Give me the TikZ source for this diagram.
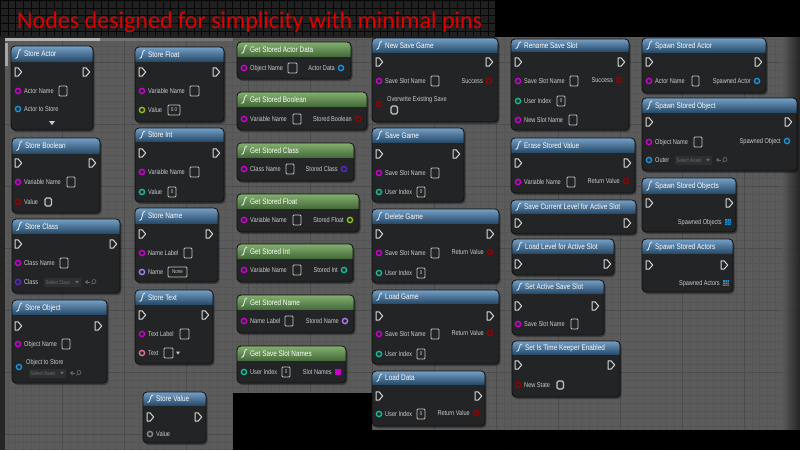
\documentclass[tikz,border=0pt]{standalone}
\usepackage{fontspec}
\setmainfont{Liberation Sans}
\newfontfamily\headfont{Carlito}
\newfontfamily\pinfont[FakeStretch=0.8]{Liberation Sans}
\definecolor{bgc}{HTML}{5B5B5B}
\definecolor{gminc}{HTML}{555555}
\definecolor{gmajc}{HTML}{4B4B4B}
\definecolor{bandc}{HTML}{202020}
\definecolor{bodyc}{HTML}{222426}
\definecolor{edgec}{HTML}{0E0E0E}
\definecolor{lblc}{HTML}{CCCCCC}
\definecolor{execc}{HTML}{D8D8D8}
\definecolor{boxc}{HTML}{C4C4C4}
\definecolor{cbfill}{HTML}{2A2A2A}
\definecolor{dimc}{HTML}{6E6E6E}
\definecolor{ddc}{HTML}{2E2F31}
\definecolor{titlered}{HTML}{E00000}
\definecolor{pmag}{HTML}{D000D0}
\definecolor{pblue}{HTML}{1C94D8}
\definecolor{pred}{HTML}{960000}
\definecolor{pgreen}{HTML}{8CC21E}
\definecolor{pteal}{HTML}{18BC98}
\definecolor{ppurp}{HTML}{5C26C8}
\definecolor{plav}{HTML}{AC7CF0}
\definecolor{ppink}{HTML}{DA74A0}
\definecolor{pgray}{HTML}{8A8A8A}
\definecolor{ficon}{HTML}{DCEAF8}
\tikzset{
  bpbody/.style={fill=bodyc, rounded corners=4pt},
  bpedge/.style={draw=edgec, line width=0.8pt, rounded corners=4pt},
  hblue/.style={top color={rgb,255:red,118;green,160;blue,198}, bottom color={rgb,255:red,40;green,76;blue,108}},
  hgreen/.style={top color={rgb,255:red,132;green,176;blue,110}, bottom color={rgb,255:red,70;green,108;blue,60}},
  ttl/.style={font=\pinfont\fontsize{8}{9}\selectfont, text=white, inner sep=0pt, anchor=base west},
  plbl/.style={font=\pinfont\fontsize{7}{8}\selectfont, text=lblc, inner sep=0pt},
  boxtxt/.style={font=\pinfont\fontsize{5.5}{6}\selectfont, text=lblc, inner sep=0pt},
  ddtxt/.style={font=\pinfont\fontsize{5.5}{6}\selectfont, text=dimc, inner sep=0pt, anchor=base west},
  execpin/.style={draw=execc, line width=1pt, line join=round},
  vbox/.style={draw=boxc, line width=0.75pt, rounded corners=1pt},
}
\newcounter{tn}
\newcommand\bpNode[8]{%
  \fill[black, opacity=0.35, rounded corners=4pt] (#2+1.5,#3+2) rectangle (#4+1.5,#5+2);
  \path[bpbody] (#2,#3) rectangle (#4,#5);
  \begin{scope}
    \clip[rounded corners=4pt] (#2,#3) rectangle (#4,#5);
    \shade[#8] (#2,#3) rectangle (#4,#6);
  \end{scope}
  \draw[bpedge] (#2,#3) rectangle (#4,#5);
  \draw[ficon, line width=0.9pt] (#2+4.5,#6-2.5) .. controls (#2+8,#6-2) and (#2+6.5,#3+2.5) .. (#2+10,#3+3);
  \node[ttl] (#1) at ({#2+13},{(#3+#6)/2+3}) {#7};
}
\newcommand\bpX[2]{\draw[execpin] (#1-3,#2-4.2) -- (#1,#2-4.2) -- (#1+3.7,#2) -- (#1,#2+4.2) -- (#1-3,#2+4.2) -- cycle;}
\newcommand\bpD[3]{\draw[line width=1.4pt, draw=#3, fill=bodyc] (#1,#2) circle (2.6pt);}
\newcommand\bpL[3]{\stepcounter{tn}\node[plbl, anchor=base west] (t\arabic{tn}) at (#1+6,#2+2.5) {#3};}
\newcommand\bpR[3]{\stepcounter{tn}\node[plbl, anchor=base east] (t\arabic{tn}) at (#1-6,#2+2.5) {#3};}
\newcommand\bpV[3]{\draw[vbox] (#1,#2-5) rectangle (#3,#2+5);}
\newcommand\bpVT[4]{\draw[vbox] (#1,#2-5) rectangle (#3,#2+5);\stepcounter{tn}\node[boxtxt] (t\arabic{tn}) at ({(#1+#3)/2},#2) {#4};}
\newcommand\bpC[2]{\draw[vbox, line width=1.2pt, fill=cbfill, rounded corners=1.5pt] (#1,#2-4) rectangle (#1+6.5,#2+4);}
\newcommand\bpA[3]{\fill[#3] (#1-3,#2-3) rectangle (#1+3,#2+3);
  \draw[black!70, line width=0.35pt] (#1-3,#2-1) -- (#1+3,#2-1) (#1-3,#2+1) -- (#1+3,#2+1) (#1-1,#2-3) -- (#1-1,#2+3) (#1+1,#2-3) -- (#1+1,#2+3);}
\newcommand\bpDD[4]{\fill[ddc] (#1,#2-4.5) rectangle (#3,#2+4.5);
  \stepcounter{tn}\node[ddtxt] (t\arabic{tn}) at (#1+1.5,#2+2) {#4};
  \fill[dimc] (#3-6,#2-1.2) -- (#3-2,#2-1.2) -- (#3-4,#2+1.3) -- cycle;}
\newcommand\bpIc[2]{\fill[dimc] (#1,#2) -- (#1+2.5,#2-2) -- (#1+2.5,#2+2) -- cycle;
  \draw[dimc, line width=0.6pt] (#1+2.5,#2) -- (#1+4.5,#2);
  \draw[dimc, line width=0.6pt] (#1+9,#2-0.5) circle (2pt) (#1+7.6,#2+1) -- (#1+6.5,#2+2.5);}
\begin{document}
\begin{tikzpicture}[x=1pt,y=-1pt]
\useasboundingbox (0,0) rectangle (800,450);
% backgrounds
\fill[black] (0,0) rectangle (800,450);
\fill[bgc] (0,37) rectangle (800,450);
\draw[gminc, line width=0.4pt, step=7.75pt] (0,37) grid (800,450);
\draw[gmajc, line width=0.6pt, step=62pt] (0,37) grid (800,450);
\shade[left color=bgc, right color=black!75!bgc, opacity=0.8] (782,37) rectangle (800,430);
\fill[bandc] (0,0) rectangle (495,38);
\draw[black!80!bandc, line width=0.4pt, step=7.75pt] (0,0) grid (495,36);
\fill[black] (495,0) rectangle (800,36);
\fill[black] (233,393) rectangle (372,450);
\fill[black] (372,430) rectangle (800,450);
\fill[black!85] (0,38) rectangle (5,450);
\fill[black!35] (5,43) rectangle (8,66);
\fill[black!55] (5,38) rectangle (233,40.5);
\fill[black!30] (5,38) rectangle (100,40.5);
% headline
\node[anchor=base west, font=\headfont\fontsize{24}{28}\selectfont, text=titlered, inner sep=0pt] (headline) at (17,28) {Nodes designed for simplicity with minimal pins};

% ===== column 1 =====
\bpNode{sa}{11}{46}{93}{130}{61}{Store Actor}{hblue}
\bpX{18}{72}\bpX{86}{72}
\bpD{18}{91}{pmag}\bpL{18}{91}{Actor Name}\bpV{59}{91}{67}
\bpD{18}{109}{pblue}\bpL{18}{109}{Actor to Store}
\fill[lblc] (49,121) -- (55,121) -- (52,125) -- cycle;

\bpNode{sb}{12}{138}{100}{213}{153}{Store Boolean}{hblue}
\bpX{18}{163}\bpX{92}{163}
\bpD{18}{182}{pmag}\bpL{18}{182}{Variable Name}\bpV{67}{182}{75}
\bpD{18}{202}{pred}\bpL{18}{202}{Value}\bpC{45}{202}

\bpNode{sc}{12}{219}{120}{293}{233}{Store Class}{hblue}
\bpX{18}{244}\bpX{113}{244}
\bpD{18}{263}{pmag}\bpL{18}{263}{Class Name}\bpV{60}{263}{68}
\bpD{18}{282}{ppurp}\bpL{18}{282}{Class}\bpDD{44}{282}{81}{Select Class}\bpIc{85}{282}

\bpNode{so}{12}{300}{107}{383}{314}{Store Object}{hblue}
\bpX{18}{326}\bpX{98}{326}
\bpD{18}{344}{pmag}\bpL{18}{344}{Object Name}\bpV{62}{344}{70}
\bpL{20}{362}{Object to Store}
\bpD{19}{367}{pblue}\bpDD{29}{373}{66}{Select Asset}\bpIc{70}{373}

% ===== column 2 =====
\bpNode{sf}{135}{47}{224}{122}{61}{Store Float}{hblue}
\bpX{142}{72}\bpX{216}{72}
\bpD{142}{91}{pmag}\bpL{142}{91}{Variable Name}\bpV{190}{91}{199}
\bpD{142}{110}{pgreen}\bpL{142}{110}{Value}\bpVT{168}{110}{180}{0.0}

\bpNode{si}{135}{128}{224}{202}{141}{Store Int}{hblue}
\bpX{142}{153}\bpX{216}{153}
\bpD{142}{172}{pmag}\bpL{142}{172}{Variable Name}\bpV{190}{172}{199}
\bpD{142}{192}{pteal}\bpL{142}{192}{Value}\bpVT{168}{192}{176}{0}

\bpNode{sn}{135}{208}{218}{282}{223}{Store Name}{hblue}
\bpX{142}{234}\bpX{209}{234}
\bpD{142}{253}{pmag}\bpL{142}{253}{Name Label}\bpV{184}{253}{192}
\bpD{142}{272}{plav}\bpL{142}{272}{Name}\bpVT{168}{272}{187}{None}

\bpNode{st}{135}{290}{213}{364}{304}{Store Text}{hblue}
\bpX{142}{315}\bpX{205}{315}
\bpD{142}{334}{pmag}\bpL{142}{334}{Text Label}\bpV{180}{334}{189}
\bpD{142}{353}{ppink}\bpL{142}{353}{Text}\bpV{164}{353}{173}
\fill[lblc] (176,351.5) -- (180,351.5) -- (178,354.5) -- cycle;

\bpNode{sv}{143}{392}{206}{443}{405}{Store Value}{hblue}
\bpX{150}{417}\bpX{198}{417}
\bpD{150}{434}{pgray}\bpL{150}{434}{Value}

% ===== column 3 (pure) =====
\bpNode{ga}{237}{42}{351}{79}{56}{Get Stored Actor Data}{hgreen}
\bpD{244}{68}{pmag}\bpL{244}{68}{Object Name}\bpV{288}{68}{297}\bpR{341}{68}{Actor Data}\bpD{341}{68}{pblue}

\bpNode{gb}{237}{92}{367}{130}{106}{Get Stored Boolean}{hgreen}
\bpD{244}{119}{pmag}\bpL{244}{119}{Variable Name}\bpV{293}{119}{301}\bpR{358}{119}{Stored Boolean}\bpD{358}{119}{pred}

\bpNode{gc}{237}{143}{354}{181}{157}{Get Stored Class}{hgreen}
\bpD{244}{169}{pmag}\bpL{244}{169}{Class Name}\bpV{286}{169}{294}\bpR{344}{169}{Stored Class}\bpD{344}{169}{ppurp}

\bpNode{gf}{237}{194}{359}{232}{208}{Get Stored Float}{hgreen}
\bpD{244}{220}{pmag}\bpL{244}{220}{Variable Name}\bpV{293}{220}{301}\bpR{350}{220}{Stored Float}\bpD{350}{220}{pgreen}

\bpNode{gi}{237}{244}{353}{282}{258}{Get Stored Int}{hgreen}
\bpD{244}{270}{pmag}\bpL{244}{270}{Variable Name}\bpV{293}{270}{301}\bpR{344}{270}{Stored Int}\bpD{344}{270}{pteal}

\bpNode{gn}{237}{295}{354}{333}{309}{Get Stored Name}{hgreen}
\bpD{244}{321}{pmag}\bpL{244}{321}{Name Label}\bpV{285}{321}{293}\bpR{345}{321}{Stored Name}\bpD{345}{321}{plav}

\bpNode{gs}{237}{346}{346}{383}{360}{Get Save Slot Names}{hgreen}
\bpD{244}{372}{pteal}\bpL{244}{372}{User Index}\bpVT{282}{372}{290}{0}\bpR{338}{372}{Slot Names}\bpA{338}{372}{pmag}

% ===== column 4 =====
\bpNode{ng}{372}{38}{498}{122}{52}{New Save Game}{hblue}
\bpX{379}{62}\bpX{489}{62}
\bpD{379}{81}{pmag}\bpL{379}{81}{Save Slot Name}\bpV{431}{81}{439}\bpR{489}{81}{Success}\bpD{489}{81}{pred}
\bpL{381}{99}{Overwrite Existing Save}\bpD{379}{104}{pred}\bpC{391}{110}

\bpNode{sg}{372}{128}{464}{202}{142}{Save Game}{hblue}
\bpX{379}{154}\bpX{456}{154}
\bpD{379}{173}{pmag}\bpL{379}{173}{Save Slot Name}\bpV{431}{173}{439}
\bpD{379}{192}{pteal}\bpL{379}{192}{User Index}\bpVT{417}{192}{425}{0}

\bpNode{dg}{372}{209}{499}{283}{223}{Delete Game}{hblue}
\bpX{379}{234}\bpX{490}{234}
\bpD{379}{253}{pmag}\bpL{379}{253}{Save Slot Name}\bpV{431}{253}{439}\bpR{490}{252}{Return Value}\bpD{490}{252}{pred}
\bpD{379}{273}{pteal}\bpL{379}{273}{User Index}\bpVT{417}{273}{425}{0}

\bpNode{lg}{372}{290}{499}{364}{303}{Load Game}{hblue}
\bpX{379}{316}\bpX{490}{316}
\bpD{379}{334}{pmag}\bpL{379}{334}{Save Slot Name}\bpV{431}{334}{439}\bpR{490}{333}{Return Value}\bpD{490}{333}{pred}
\bpD{379}{354}{pteal}\bpL{379}{354}{User Index}\bpVT{417}{354}{425}{0}

\bpNode{ld}{372}{371}{485}{426}{384}{Load Data}{hblue}
\bpX{379}{396}\bpX{478}{396}
\bpD{379}{414}{pteal}\bpL{379}{414}{User Index}\bpVT{417}{414}{425}{0}\bpR{476}{413}{Return Value}\bpD{476}{413}{pred}

% ===== column 5 =====
\bpNode{rs}{511}{39}{629}{130}{51}{Rename Save Slot}{hblue}
\bpX{518}{62}\bpX{621}{62}
\bpD{518}{81}{pmag}\bpL{518}{81}{Save Slot Name}\bpV{570}{81}{578}\bpR{619}{80}{Success}\bpD{619}{80}{pred}
\bpD{518}{101}{pteal}\bpL{518}{101}{User Index}\bpVT{557}{101}{565}{0}
\bpD{518}{120}{pmag}\bpL{518}{120}{New Slot Name}\bpV{569}{120}{577}

\bpNode{es}{511}{138}{635}{193}{152}{Erase Stored Value}{hblue}
\bpX{518}{163}\bpX{627}{163}
\bpD{518}{182}{pmag}\bpL{518}{182}{Variable Name}\bpV{567}{182}{575}\bpR{626}{181}{Return Value}\bpD{626}{181}{pred}

\bpNode{sl}{511}{200}{636}{234}{213}{Save Current Level for Active Slot}{hblue}
\bpX{518}{223}\bpX{627}{223}

\bpNode{ll}{512}{239}{614}{275}{253}{Load Level for Active Slot}{hblue}
\bpX{518}{264}\bpX{607}{264}

\bpNode{as}{512}{280}{604}{335}{293}{Set Active Save Slot}{hblue}
\bpX{518}{306}\bpX{595}{306}
\bpD{518}{324}{pmag}\bpL{518}{324}{Save Slot Name}\bpV{571}{324}{578}

\bpNode{tk}{512}{341}{620}{397}{354}{Set Is Time Keeper Enabled}{hblue}
\bpX{518}{365}\bpX{611}{365}
\bpD{518}{385}{pred}\bpL{518}{385}{New State}\bpC{557}{385}

% ===== column 6 =====
\bpNode{ssa}{642}{38}{766}{93}{52}{Spawn Stored Actor}{hblue}
\bpX{649}{62}\bpX{758}{62}
\bpD{649}{81}{pmag}\bpL{649}{81}{Actor Name}\bpV{692}{81}{699}\bpR{757}{81}{Spawned Actor}\bpD{757}{81}{pblue}

\bpNode{sso}{642}{98}{797}{171}{112}{Spawn Stored Object}{hblue}
\bpX{649}{122}\bpX{788}{122}
\bpD{649}{142}{pmag}\bpL{649}{142}{Object Name}\bpV{694}{142}{702}\bpR{787}{141}{Spawned Object}\bpD{787}{141}{pblue}
\bpD{649}{160}{pblue}\bpL{649}{160}{Outer}\bpDD{675}{160}{712}{Select Asset}\bpIc{716}{160}

\bpNode{ssos}{642}{178}{736}{232}{193}{Spawn Stored Objects}{hblue}
\bpX{649}{203}\bpX{729}{203}
\bpR{728}{222}{Spawned Objects}\bpA{728}{222}{pblue}

\bpNode{ssas}{642}{239}{733}{292}{253}{Spawn Stored Actors}{hblue}
\bpX{649}{265}\bpX{724}{265}
\bpR{726}{283}{Spawned Actors}\bpA{726}{283}{pblue}
\end{tikzpicture}
\end{document}
